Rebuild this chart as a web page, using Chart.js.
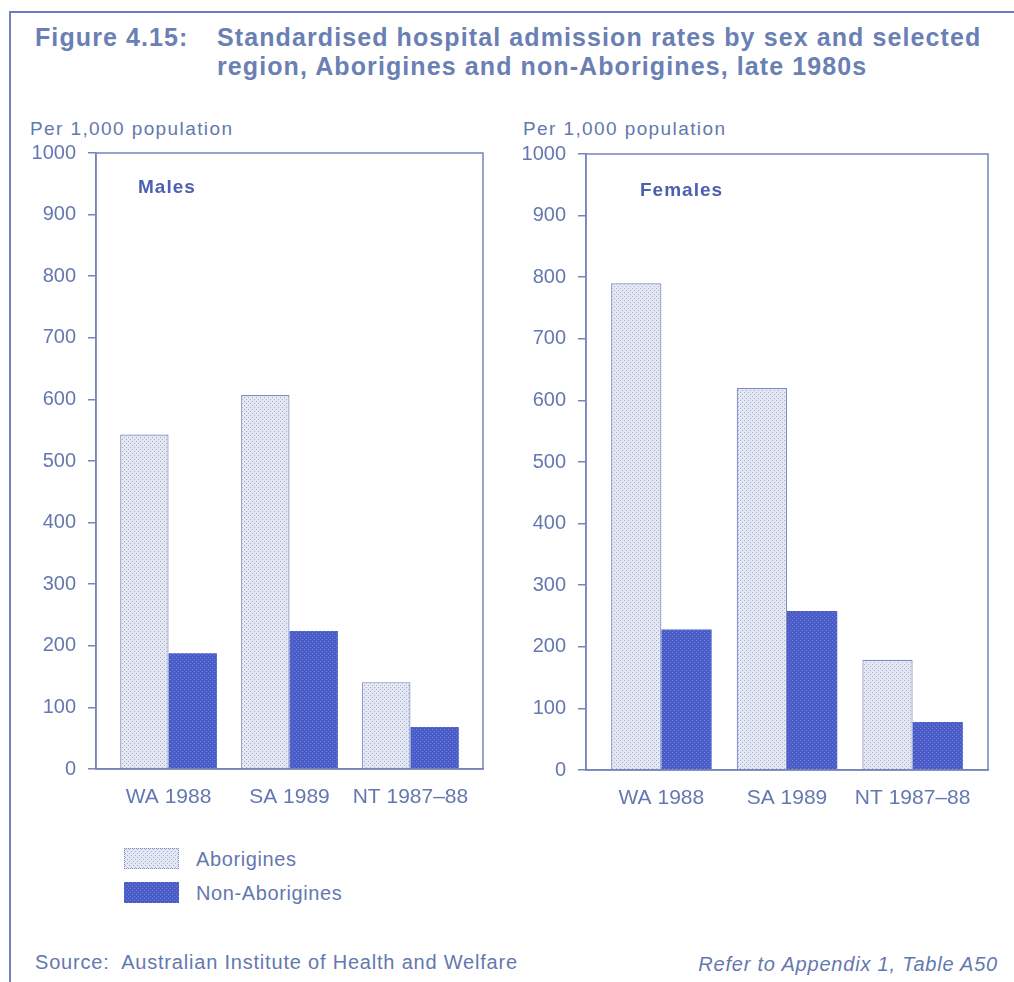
<!DOCTYPE html>
<html>
<head>
<meta charset="utf-8">
<script src="https://cdn.jsdelivr.net/npm/chart.js@4.4.1/dist/chart.umd.min.js"></script>
<style>
  body { margin: 0; background: #fff; font-family: "Liberation Sans", Arial, sans-serif; color: #6478b0; }
  #page { position: relative; width: 1014px; height: 982px; overflow: hidden; }
  .frame { position: absolute; left: 9px; top: 11px; right: -5px; bottom: -5px;
    border-top: 2px solid #6c78c4; border-left: 2px solid #7480c4; }
  .txt { position: absolute; white-space: nowrap; line-height: 1; }
  .title { font-weight: bold; font-size: 25px; line-height: 29px; color: #6a80b4; letter-spacing: 1.1px; }
  .unit { font-size: 19px; letter-spacing: 1.4px; }
  .panel { font-weight: bold; font-size: 19px; color: #4d60b0; letter-spacing: 1px; }
  .leg { font-size: 20px; letter-spacing: 0.6px; }
  .foot { font-size: 20px; letter-spacing: 0.8px; }
  .swatch { position: absolute; width: 55px; height: 21px; box-sizing: border-box; }
  canvas { position: absolute; }
</style>
</head>
<body>
<div id="page">
  <div class="frame"></div>
  <div class="txt title" style="left:35px; top:23px;">Figure 4.15:</div>
  <div class="txt title" style="left:217px; top:23px;">Standardised hospital admission rates by sex and selected<br>region, Aborigines and non-Aborigines, late 1980s</div>

  <div class="txt unit" style="left:30px; top:119px;">Per 1,000 population</div>
  <div class="txt unit" style="left:523px; top:119px;">Per 1,000 population</div>

  <div style="position:absolute; left:20px; top:129px; width:475px; height:695px;"><canvas id="males"></canvas></div>
  <div style="position:absolute; left:510px; top:130px; width:490px; height:695px;"><canvas id="females"></canvas></div>

  <div class="txt panel" style="left:138px; top:177px;">Males</div>
  <div class="txt panel" style="left:640px; top:180px;">Females</div>

  <div class="swatch" id="sw-abor" style="left:124px; top:848px;"></div>
  <div class="txt leg" style="left:196px; top:849px;">Aborigines</div>
  <div class="swatch" id="sw-non" style="left:124px; top:882px;"></div>
  <div class="txt leg" style="left:196px; top:883px;">Non-Aborigines</div>

  <div class="txt foot" style="left:35px; top:952px;">Source:&nbsp; Australian Institute of Health and Welfare</div>
  <div class="txt foot" style="right:16px; top:954px; font-style:italic;">Refer to Appendix 1, Table A50</div>
</div>

<script>
const regions = ["WA 1988", "SA 1989", "NT 1987\u201388"];
const seriesNames = ["Aborigines", "Non-Aborigines"];
const yTicks = [0, 100, 200, 300, 400, 500, 600, 700, 800, 900, 1000];

// values, per 1,000 population
const malesAborigines = [543, 607, 141];
const malesNonAborigines = [188, 224, 68];
const femalesAborigines = [790, 620, 179];
const femalesNonAborigines = [228, 258, 78];

const frameColor = "#7584bb";
const textColor = "#6478b0";

function dotPattern(bg, dot) {
  const c = document.createElement("canvas");
  c.width = 4;
  c.height = 4;
  const g = c.getContext("2d");
  g.fillStyle = bg;
  g.fillRect(0, 0, 4, 4);
  g.fillStyle = dot;
  g.fillRect(0, 0, 1, 1);
  g.fillRect(2, 2, 1, 1);
  return c;
}

const aborTile = dotPattern("#e3e8f2", "#a2adcf");
const nonTile = dotPattern("#4a5cc8", "#7383d8");
const aborFill = document.createElement("canvas").getContext("2d").createPattern(aborTile, "repeat");
const nonFill = document.createElement("canvas").getContext("2d").createPattern(nonTile, "repeat");

document.getElementById("sw-abor").style.cssText +=
  `background-image:url(${aborTile.toDataURL()}); border:1.5px dotted #7d8ac2;`;
document.getElementById("sw-non").style.cssText +=
  `background-image:url(${nonTile.toDataURL()});`;

// box round the plot area
const plotFrame = {
  id: "plotFrame",
  afterDatasetsDraw(chart) {
    const { ctx, chartArea: a } = chart;
    ctx.save();
    ctx.strokeStyle = frameColor;
    ctx.lineWidth = 1.5;
    ctx.strokeRect(a.left, a.top, a.right - a.left, a.bottom - a.top);
    ctx.restore();
  },
};

function toPoints(values) {
  return values.map((v, i) => ({ x: i + 1, y: v }));
}

function makeChart(id, abor, non) {
  return new Chart(document.getElementById(id), {
    type: "bar",
    data: {
      datasets: [
        {
          label: seriesNames[0],
          data: toPoints(abor),
          backgroundColor: aborFill,
          borderColor: "#7d8ac2",
          borderWidth: 1.2,
        },
        {
          label: seriesNames[1],
          data: toPoints(non),
          backgroundColor: nonFill,
          borderColor: "#4a5cc8",
          borderWidth: 0,
        },
      ],
    },
    options: {
      responsive: true,
      maintainAspectRatio: false,
      animation: false,
      categoryPercentage: 0.8,
      barPercentage: 1.0,
      layout: { padding: { left: 10, right: 12, top: 0, bottom: 5 } },
      plugins: { legend: { display: false }, tooltip: { enabled: false } },
      scales: {
        x: {
          type: "linear",
          offset: false,
          min: 0.4,
          max: 3.6,
          afterBuildTicks: (scale) => {
            scale.ticks = regions.map((r, i) => ({ value: i + 1 }));
          },
          afterFit: (scale) => {
            scale.height = 50;
          },
          ticks: {
            autoSkip: false,
            maxRotation: 0,
            minRotation: 0,
            padding: 16,
            color: textColor,
            font: { family: "Liberation Sans", size: 21 },
            callback: (v) => regions[v - 1] || "",
          },
          grid: { display: false, drawTicks: false },
          border: { display: true, color: frameColor, width: 1.5 },
        },
        y: {
          min: 0,
          max: 1000,
          afterBuildTicks: (scale) => {
            scale.ticks = yTicks.map((v) => ({ value: v }));
          },
          afterFit: (scale) => {
            scale.width = 66;
          },
          ticks: {
            padding: 12,
            color: textColor,
            font: { family: "Liberation Sans", size: 20 },
            callback: (v) => String(v),
          },
          grid: {
            drawOnChartArea: false,
            drawTicks: true,
            tickLength: 8,
            color: frameColor,
            lineWidth: 1.5,
          },
          border: { display: true, color: frameColor, width: 1.5 },
        },
      },
    },
    plugins: [plotFrame],
  });
}

makeChart("males", malesAborigines, malesNonAborigines);
makeChart("females", femalesAborigines, femalesNonAborigines);
</script>
</body>
</html>
